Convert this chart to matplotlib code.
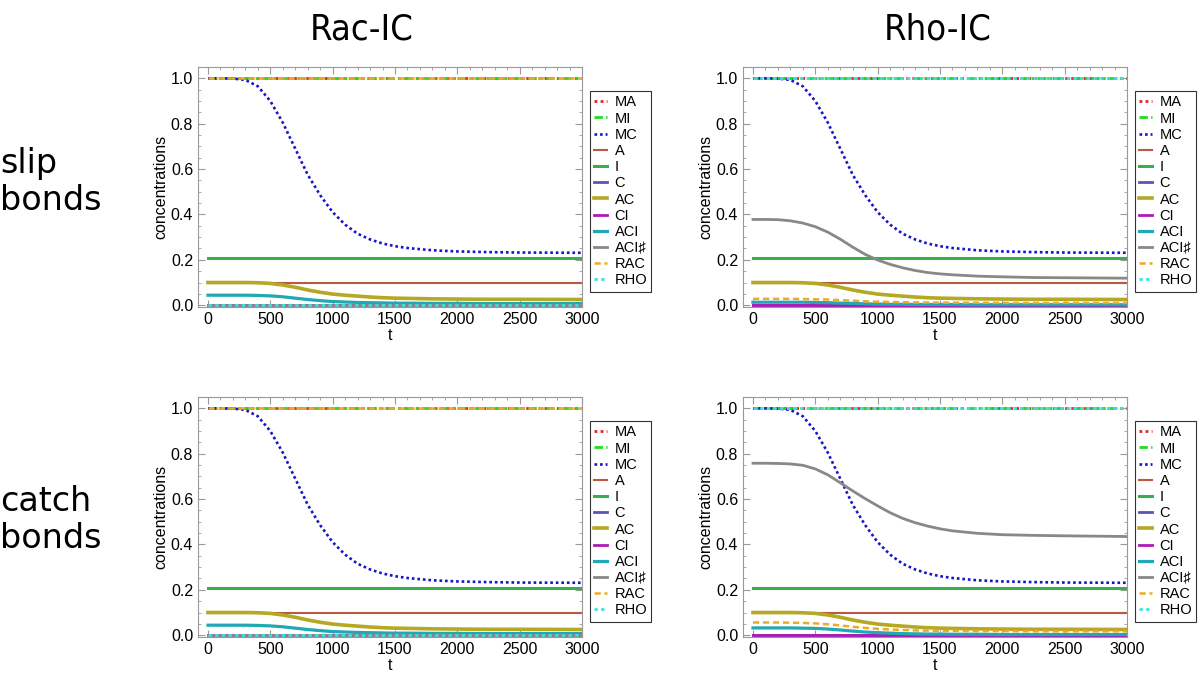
import numpy as np
import matplotlib
matplotlib.use("Agg")
import matplotlib.pyplot as plt
from matplotlib.ticker import MultipleLocator

# time grid
t = [0, 100, 200, 300, 400, 500, 600, 700, 800, 900, 1000, 1100,
     1200, 1300, 1400, 1500, 1600, 1800, 2000, 2250, 2500, 3000]

# curves
mc = [1.0, 1.0, 0.999, 0.993, 0.965, 0.9, 0.805, 0.69, 0.575, 0.485, 0.41, 0.355,
      0.315, 0.29, 0.272, 0.26, 0.252, 0.242, 0.237, 0.234, 0.232, 0.231]
ac = [0.1, 0.1, 0.1, 0.1, 0.099, 0.096, 0.089, 0.079, 0.067, 0.057, 0.049, 0.044,
      0.04, 0.036, 0.033, 0.031, 0.03, 0.028, 0.027, 0.026, 0.026, 0.025]
aci_rac = [0.044, 0.044, 0.044, 0.044, 0.043, 0.041, 0.037, 0.031, 0.025, 0.02, 0.016, 0.014,
           0.012, 0.011, 0.01, 0.009, 0.009, 0.008, 0.008, 0.007, 0.007, 0.007]
aci_rho_slip = [0.013, 0.013, 0.013, 0.013, 0.013, 0.012, 0.011, 0.009, 0.008, 0.006, 0.005, 0.004,
                0.004, 0.003, 0.003, 0.003, 0.003, 0.002, 0.002, 0.002, 0.002, 0.002]
aci_rho_catch = [0.032, 0.032, 0.032, 0.032, 0.031, 0.03, 0.027, 0.023, 0.018, 0.014, 0.011, 0.009,
                 0.007, 0.006, 0.005, 0.005, 0.004, 0.004, 0.003, 0.003, 0.003, 0.003]
rac_rho_slip = [0.028, 0.028, 0.028, 0.028, 0.027, 0.026, 0.025, 0.022, 0.02, 0.017, 0.015, 0.014,
                0.013, 0.012, 0.012, 0.011, 0.011, 0.011, 0.01, 0.01, 0.01, 0.01]
rac_rho_catch = [0.056, 0.056, 0.056, 0.055, 0.054, 0.052, 0.048, 0.043, 0.037, 0.032, 0.028, 0.025,
                 0.023, 0.021, 0.02, 0.019, 0.019, 0.018, 0.018, 0.017, 0.017, 0.017]
acis_rho_slip = [0.378, 0.378, 0.377, 0.372, 0.362, 0.346, 0.322, 0.291, 0.256, 0.224, 0.199, 0.18,
                 0.165, 0.153, 0.144, 0.138, 0.134, 0.128, 0.125, 0.122, 0.121, 0.119]
acis_rho_catch = [0.758, 0.758, 0.757, 0.755, 0.749, 0.733, 0.707, 0.672, 0.636, 0.602, 0.57, 0.54,
                  0.515, 0.496, 0.481, 0.469, 0.46, 0.449, 0.443, 0.44, 0.438, 0.435]
a_level = 0.1
i_level = 0.21
c_level = 0.002

names = ["MA", "MI", "MC", "A", "I", "C", "AC", "CI", "ACI", "ACI\u266f", "RAC", "RHO"]
colors = ["#e8202a", "#22dd22", "#1515c8", "#b85a40", "#3aae4a", "#5a55b5",
          "#b5a822", "#b018b8", "#22a8b2", "#888888", "#f0a828", "#40e0e0"]
styles = [(0, (1, 1.2)), (0, (3, 1.2, 1, 1.2)), (0, (1, 1.1)), "-", "-", "-",
          "-", "-", "-", "-", (0, (2.5, 1.5)), (0, (1.2, 1.2))]
widths = [2, 2, 1.9, 1.5, 2.2, 2, 2.6, 2, 2.3, 2, 1.8, 2]

plt.rcParams['font.family'] = ['Liberation Sans', 'DejaVu Sans']

fig = plt.figure(figsize=(12, 6.76), dpi=100)

lefts = [198 / 1200, 743 / 1200]
bottoms = [1 - 307 / 676, 1 - 637 / 676]
W = 384 / 1200
H = 240 / 676


def panel(ax, series):
    for k, nm in enumerate(names):
        ax.plot(t, series[nm], color=colors[k], ls=styles[k], lw=widths[k], label=nm)
    ax.set_xlim(-80, 3000)
    ax.set_ylim(-0.008, 1.05)
    ax.xaxis.set_major_locator(MultipleLocator(500))
    ax.xaxis.set_minor_locator(MultipleLocator(100))
    ax.yaxis.set_minor_locator(MultipleLocator(0.05))
    ax.tick_params(which='both', direction='in', top=True, right=True,
                   color='#999999', labelsize=11.5)
    ax.tick_params(which='major', length=5)
    ax.tick_params(which='minor', length=2.5)
    ax.set_yticks([0, 0.2, 0.4, 0.6, 0.8, 1.0])
    ax.set_yticklabels(["0.0", "0.2", "0.4", "0.6", "0.8", "1.0"])
    for s in ax.spines.values():
        s.set_color('#999999')
    ax.set_xlabel("t", fontsize=11.5, labelpad=1)
    ax.set_ylabel("concentrations", fontsize=11.5, labelpad=2)
    leg = ax.legend(loc='upper left', bbox_to_anchor=(1.02, 0.9), fontsize=10.5,
                    handlelength=0.9, handletextpad=0.5, labelspacing=0.15,
                    borderpad=0.3, fancybox=False, framealpha=1, borderaxespad=0)
    leg.get_frame().set_edgecolor('#333333')
    leg.get_frame().set_linewidth(0.8)


n = len(t)
ones = [1.0] * n
zeros = [0.0] * n
for row in range(2):
    for col in range(2):
        ax = fig.add_axes([lefts[col], bottoms[row], W, H])
        if col == 0:
            aci = aci_rac
            acis = zeros
            rac = ones
            rho = zeros
        else:
            aci = aci_rho_slip if row == 0 else aci_rho_catch
            acis = acis_rho_slip if row == 0 else acis_rho_catch
            rac = rac_rho_slip if row == 0 else rac_rho_catch
            rho = ones
        series = {
            "MA": ones, "MI": ones, "MC": mc,
            "A": [a_level] * n, "I": [i_level] * n, "C": [c_level] * n,
            "AC": ac, "CI": zeros, "ACI": aci, "ACI\u266f": acis,
            "RAC": rac, "RHO": rho,
        }
        panel(ax, series)

fig.text(362 / 1200, 1 - 30 / 676, "Rac-IC", ha='center', va='center',
         fontsize=26, family='DejaVu Sans', fontstretch='condensed')
fig.text(938 / 1200, 1 - 30 / 676, "Rho-IC", ha='center', va='center',
         fontsize=26, family='DejaVu Sans', fontstretch='condensed')
fig.text(0, 1 - 182 / 676, "slip\nbonds", ha='left', va='center',
         fontsize=24, family='DejaVu Sans', linespacing=1.15)
fig.text(0, 1 - 520 / 676, "catch\nbonds", ha='left', va='center',
         fontsize=24, family='DejaVu Sans', linespacing=1.15)

fig.savefig("out.png", dpi=100)
